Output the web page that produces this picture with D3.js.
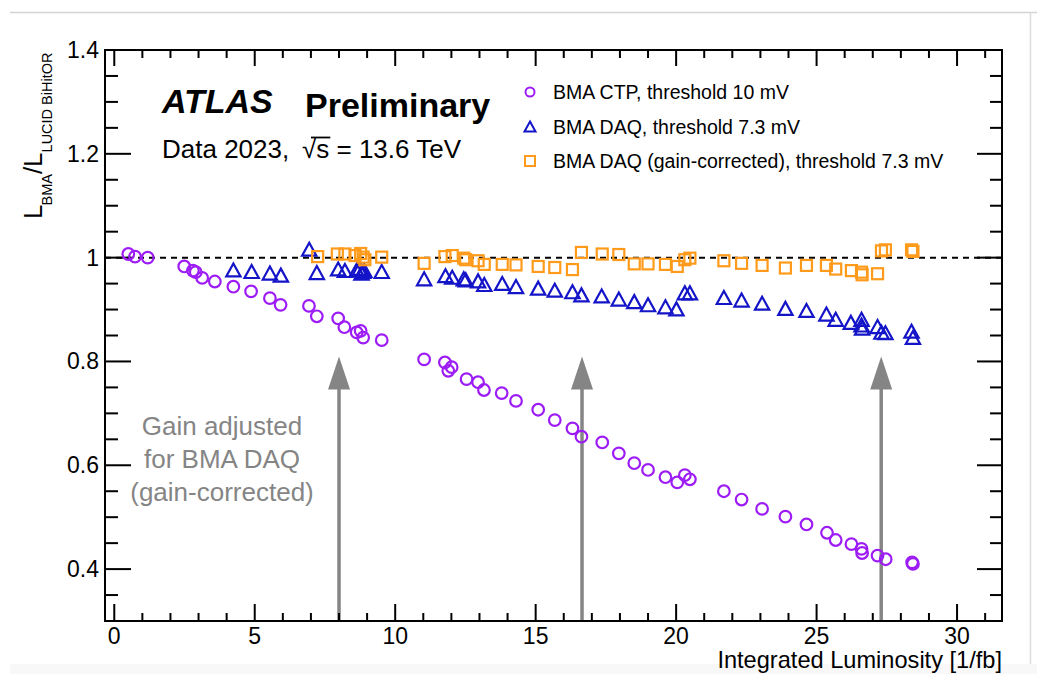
<!DOCTYPE html>
<html><head><meta charset="utf-8">
<script src="https://cdn.jsdelivr.net/npm/d3@7"></script>
<style>
html,body{margin:0;padding:0;background:#fff;}
svg{display:block;font-family:"Liberation Sans",Arial,Helvetica,sans-serif;}
</style></head>
<body>
<svg id="c" width="1037" height="674"></svg>
<script>
// ---------------- data ----------------
const ctpLumi  = [0.50,0.74,1.19,2.49,2.80,2.90,3.13,3.58,4.24,4.87,5.54,5.92,6.93,7.21,7.97,8.19,8.63,8.77,8.86,9.52,11.03,11.77,11.89,12.01,12.54,12.95,13.16,13.79,14.30,15.09,15.68,16.31,16.63,17.37,17.96,18.51,19.00,19.62,20.04,20.31,20.49,21.70,22.33,23.06,23.89,24.64,25.37,25.68,26.24,26.60,26.62,27.17,27.46,28.40,28.43];
const ctpRatio = [1.007,1.002,1.000,0.983,0.975,0.972,0.961,0.954,0.944,0.935,0.922,0.909,0.907,0.887,0.883,0.866,0.856,0.859,0.846,0.841,0.804,0.798,0.782,0.789,0.766,0.760,0.745,0.739,0.724,0.707,0.687,0.671,0.655,0.644,0.623,0.604,0.591,0.577,0.567,0.581,0.573,0.550,0.534,0.516,0.501,0.486,0.470,0.456,0.448,0.439,0.431,0.426,0.419,0.413,0.410];

const daqLumi  = [4.24,4.89,5.54,5.93,6.94,7.21,7.97,8.21,8.63,8.74,8.80,8.86,8.90,9.52,11.03,11.79,12.03,12.44,12.51,12.95,13.17,13.81,14.30,15.09,15.68,16.31,16.63,17.35,17.96,18.51,19.00,19.62,20.01,20.31,20.49,21.70,22.33,23.06,23.89,24.64,25.35,25.68,26.22,26.60,26.60,26.62,27.17,27.31,27.45,28.38,28.43];
const daqRatio = [0.975,0.972,0.969,0.965,1.015,0.970,0.977,0.974,0.975,0.978,0.969,0.972,0.974,0.972,0.958,0.964,0.961,0.958,0.956,0.954,0.947,0.949,0.943,0.940,0.936,0.933,0.927,0.925,0.919,0.914,0.908,0.904,0.900,0.931,0.931,0.922,0.917,0.911,0.901,0.897,0.890,0.880,0.874,0.880,0.869,0.863,0.866,0.855,0.854,0.857,0.845];

const corrLumi  = [7.24,7.94,8.21,8.57,8.77,8.86,8.92,9.52,11.03,11.77,12.03,12.44,12.51,12.95,13.17,13.81,14.30,15.09,15.68,16.31,16.63,17.37,17.96,18.51,19.00,19.62,20.04,20.31,20.49,21.70,22.33,23.06,23.89,24.64,25.35,25.68,26.24,26.60,26.62,27.17,27.31,27.45,28.38,28.43];
const corrRatio = [1.002,1.007,1.007,1.004,1.008,1.001,0.996,1.001,0.989,1.002,1.004,0.999,0.996,0.994,0.987,0.987,0.986,0.983,0.981,0.977,1.010,1.007,1.006,0.988,0.988,0.987,0.983,0.996,0.999,0.994,0.989,0.985,0.980,0.985,0.985,0.978,0.975,0.972,0.967,0.969,1.013,1.015,1.015,1.012];

const gainAdjustLumi = [8.0, 16.65, 27.3];
const xTickValues = [0,5,10,15,20,25,30];
const yTickValues = [0.4,0.6,0.8,1.0,1.2,1.4];
const yTickLabels = ["0.4","0.6","0.8","1","1.2","1.4"];
const legendLabels = ["BMA CTP, threshold 10 mV","BMA DAQ, threshold 7.3 mV","BMA DAQ (gain-corrected), threshold 7.3 mV"];
const annotationLines = ["Gain adjusted","for BMA DAQ","(gain-corrected)"];

// ---------------- layout ----------------
const svg = d3.select("#c");
const L = 105, R = 1002, T = 50, B = 621;
const x = d3.scaleLinear().domain([-0.33, 31.6]).range([L, R]);
const y = d3.scaleLinear().domain([0.3, 1.4]).range([B, T]);
const cPurple = "#9d1cf5", cBlue = "#1414c8", cOrange = "#ff9a1a", cGray = "#858585";

// page decorations
svg.append("rect").attr("x",10).attr("y",664).attr("width",1027).attr("height",10).attr("fill","#f8f8f8");
svg.append("line").attr("x1",10).attr("x2",1037).attr("y1",12.5).attr("y2",12.5).attr("stroke","#d4d4d4").attr("stroke-width",1.5);
svg.append("line").attr("x1",1030.5).attr("x2",1030.5).attr("y1",12).attr("y2",664).attr("stroke","#dcdcdc").attr("stroke-width",1.5);

// arrows (behind markers)
const arr = svg.append("g");
gainAdjustLumi.forEach(v => {
  const px = x(v);
  arr.append("line").attr("x1",px).attr("x2",px).attr("y1",B).attr("y2",y(0.80)+26)
    .attr("stroke",cGray).attr("stroke-width",3.5);
  arr.append("path").attr("d",`M${px},${y(0.80)-5} L${px-11},${y(0.80)+28} L${px+11},${y(0.80)+28} Z`).attr("fill",cGray);
});

// dashed line at 1
svg.append("line").attr("x1",L).attr("x2",R).attr("y1",y(1)).attr("y2",y(1))
  .attr("stroke","#000").attr("stroke-width",2).attr("stroke-dasharray","6,5");

// frame & ticks
const ax = svg.append("g").attr("stroke","#000").attr("stroke-width",2);
ax.append("rect").attr("x",L).attr("y",T).attr("width",R-L).attr("height",B-T).attr("fill","none");
d3.range(0,32,1).forEach(v => {
  const major = v % 5 === 0, px = x(v);
  ax.append("line").attr("x1",px).attr("x2",px).attr("y1",B).attr("y2",B-(major?17:8));
  ax.append("line").attr("x1",px).attr("x2",px).attr("y1",T).attr("y2",T+(major?16:8));
});
d3.range(0.35,1.4,0.05).forEach(v => {
  const major = Math.abs(Math.round(v*10)/10 - v) < 1e-6 && Math.round(v*10) % 2 === 0;
  const py = y(v);
  ax.append("line").attr("x1",L).attr("x2",L+(major?26:13)).attr("y1",py).attr("y2",py);
  ax.append("line").attr("x1",R).attr("x2",R-(major?25:12)).attr("y1",py).attr("y2",py);
});
svg.append("g").selectAll("text").data(xTickValues).join("text")
  .attr("x",d=>x(d)).attr("y",644).attr("text-anchor","middle").attr("font-size",23).text(d=>d);
svg.append("g").selectAll("text").data(yTickValues).join("text")
  .attr("x",99).attr("y",d=>y(d)+8).attr("text-anchor","end").attr("font-size",23).text((d,i)=>yTickLabels[i]);

// axis titles
svg.append("text").attr("x",R).attr("y",668).attr("text-anchor","end").attr("font-size",23.6)
  .text("Integrated Luminosity [1/fb]");
const yt = svg.append("text").attr("transform","translate(42,219) rotate(-90)").attr("font-size",26);
yt.append("tspan").text("L");
yt.append("tspan").attr("font-size",14.5).attr("dy",10).attr("dx",-1).text("BMA");
yt.append("tspan").attr("dy",-10).text("/L");
yt.append("tspan").attr("font-size",14.5).attr("dy",10).text("LUCID BiHitOR");

// ATLAS labels
svg.append("text").attr("x",162).attr("y",113).attr("font-size",34).attr("font-weight","bold").attr("font-style","italic").text("ATLAS");
svg.append("text").attr("x",305).attr("y",117).attr("font-size",34).attr("font-weight","bold").text("Preliminary");
svg.append("text").attr("x",162).attr("y",158).attr("font-size",26).text("Data 2023,");
const sq = svg.append("text").attr("x",302).attr("y",158).attr("font-size",26);
sq.append("tspan").text("√");
sq.append("tspan").text("s");
sq.append("tspan").text(" = 13.6 TeV");
{
  const n = sq.node();
  const st = n.getStartPositionOfChar(0), en = n.getEndPositionOfChar(1);
  svg.append("line").attr("x1",st.x+9).attr("x2",en.x+1).attr("y1",158-20.5).attr("y2",158-20.5).attr("stroke","#000").attr("stroke-width",1.8);
}

// annotation
svg.append("g").selectAll("text").data(annotationLines).join("text")
  .attr("x",222).attr("y",(d,i)=>435+i*33).attr("text-anchor","middle").attr("font-size",26).attr("fill",cGray).text(d=>d);

// markers
const triPath = (s) => `M0,${-s*0.55} L${s*0.55},${s*0.45} L${-s*0.55},${s*0.45} Z`;
svg.append("g").selectAll("circle").data(ctpLumi).join("circle")
  .attr("cx",d=>x(d)).attr("cy",(d,i)=>y(ctpRatio[i])).attr("r",5.8)
  .attr("fill","none").attr("stroke",cPurple).attr("stroke-width",2.2);
svg.append("g").selectAll("path").data(daqLumi).join("path")
  .attr("transform",(d,i)=>`translate(${x(d)},${y(daqRatio[i])})`).attr("d",triPath(13))
  .attr("fill","none").attr("stroke",cBlue).attr("stroke-width",2.2);
svg.append("g").selectAll("rect").data(corrLumi).join("rect")
  .attr("x",d=>x(d)-5.5).attr("y",(d,i)=>y(corrRatio[i])-5.5).attr("width",11).attr("height",11)
  .attr("fill","none").attr("stroke",cOrange).attr("stroke-width",2.2);

// legend
const lg = svg.append("g");
const ly = [92,127,161];
lg.append("circle").attr("cx",530).attr("cy",ly[0]).attr("r",4.5).attr("fill","none").attr("stroke",cPurple).attr("stroke-width",2);
lg.append("path").attr("transform",`translate(530,${ly[1]})`).attr("d",triPath(10)).attr("fill","none").attr("stroke",cBlue).attr("stroke-width",2);
lg.append("rect").attr("x",525).attr("y",ly[2]-5).attr("width",10).attr("height",10).attr("fill","none").attr("stroke",cOrange).attr("stroke-width",2);
lg.selectAll("text").data(legendLabels).join("text")
  .attr("x",553).attr("y",(d,i)=>ly[i]+7).attr("font-size",19.5).text(d=>d);
</script>
</body></html>
